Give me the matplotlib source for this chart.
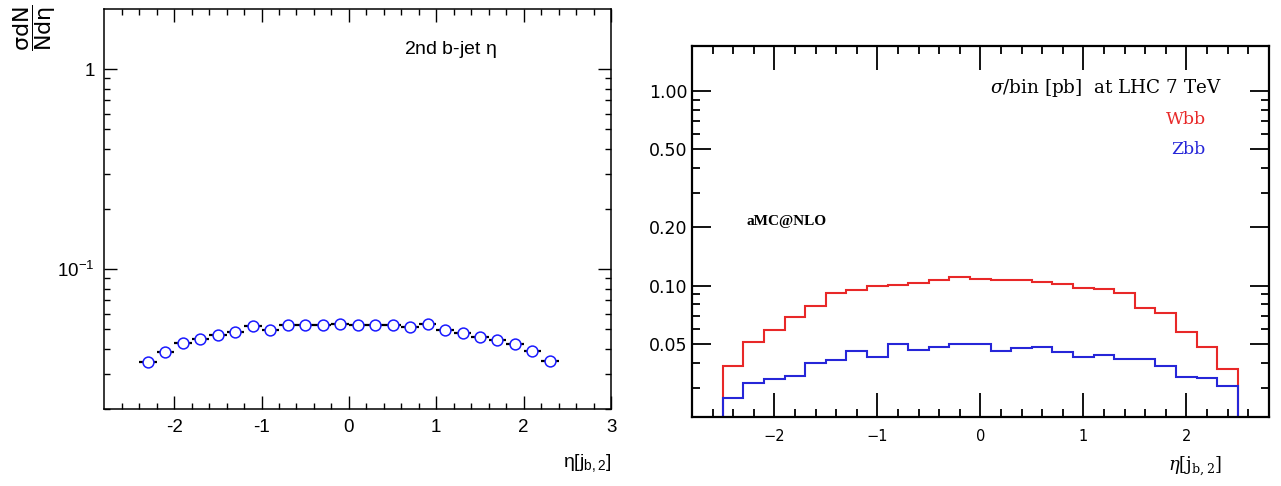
import matplotlib.pyplot as plt
from matplotlib.ticker import NullFormatter

plt.rcParams['mathtext.fontset'] = 'custom'
plt.rcParams['mathtext.rm'] = 'Liberation Sans'
plt.rcParams['mathtext.it'] = 'Liberation Sans:italic'
plt.rcParams['mathtext.bf'] = 'Liberation Sans:bold'

# left panel: normalised 2nd b-jet eta shape (bin centres, bin width 0.2)
eta_centres = [-2.3, -2.1, -1.9, -1.7, -1.5, -1.3, -1.1, -0.9, -0.7, -0.5, -0.3, -0.1,
               0.1, 0.3, 0.5, 0.7, 0.9, 1.1, 1.3, 1.5, 1.7, 1.9, 2.1, 2.3]
eta_halfwidth = 0.1
shape_vals = [0.0343, 0.0384, 0.0426, 0.0447, 0.0467, 0.0486, 0.0518, 0.0499,
              0.0524, 0.0525, 0.0524, 0.0530, 0.0524, 0.0524, 0.0524, 0.0514,
              0.0534, 0.0499, 0.0482, 0.0459, 0.0445, 0.0424, 0.0388, 0.0347]
left_xticks = [-2, -1, 0, 1, 2, 3]
left_xticklabels = ['-2', '-1', '0', '1', '2', '3']
left_yticks = [0.1, 1]
left_yticklabels = [r'$\mathregular{10^{-1}}$', '1']

# right panel: aMC@NLO sigma/bin histograms
bin_edges = [-2.5, -2.3, -2.1, -1.9, -1.7, -1.5, -1.3, -1.1, -0.9, -0.7, -0.5, -0.3, -0.1,
             0.1, 0.3, 0.5, 0.7, 0.9, 1.1, 1.3, 1.5, 1.7, 1.9, 2.1, 2.3, 2.5]
wbb = [0.0388, 0.0516, 0.0591, 0.0686, 0.0789, 0.0918, 0.0951, 0.0992, 0.1012,
       0.1031, 0.1073, 0.1111, 0.1085, 0.1069, 0.1069, 0.1048, 0.1016, 0.0969,
       0.0958, 0.0914, 0.0770, 0.0727, 0.0580, 0.0483, 0.0373]
zbb = [0.0266, 0.0317, 0.0330, 0.0345, 0.0403, 0.0413, 0.0459, 0.0431, 0.0500,
       0.0468, 0.0483, 0.0502, 0.0500, 0.0464, 0.0481, 0.0486, 0.0455, 0.0431,
       0.0441, 0.0420, 0.0420, 0.0388, 0.0341, 0.0335, 0.0307]
right_xticks = [-2, -1, 0, 1, 2]
right_yticks = [0.05, 0.1, 0.2, 0.5, 1.0]
right_yticklabels = ['0.05', '0.10', '0.20', '0.50', '1.00']

fig = plt.figure(figsize=(12.81, 4.86), dpi=100)

# ---------------- left panel ----------------
ax1 = fig.add_axes([0.0814, 0.1584, 0.3956, 0.8231])
ax1.errorbar(eta_centres, shape_vals, xerr=eta_halfwidth, fmt='o', ms=7.8,
             mfc='white', mec='#1a1aff', mew=1.1, ecolor='black',
             elinewidth=1.6, capsize=0)
ax1.set_yscale('log')
ax1.set_xlim(-2.8, 3)
ax1.set_ylim(0.02, 2)
ax1.set_xticks(left_xticks, left_xticklabels)
ax1.set_xticks([-2.6 + 0.2 * i for i in range(29)], minor=True)
ax1.set_yticks(left_yticks, left_yticklabels)
ax1.set_yticks([m * 10.0 ** e for e in (-2, -1) for m in range(2, 10)], minor=True)
ax1.yaxis.set_minor_formatter(NullFormatter())
ax1.tick_params(which='both', direction='in', top=True, right=True, width=1)
ax1.tick_params(which='major', length=9.5, labelsize=13.5, pad=7)
ax1.tick_params(which='minor', length=4.5)
for lab in ax1.get_xticklabels() + ax1.get_yticklabels():
    lab.set_family('Liberation Sans')
for s in ax1.spines.values():
    s.set_linewidth(1.1)

ax1.text(0.591, 0.8975, r'2nd b-jet $\mathregular{\eta}$', transform=ax1.transAxes,
         ha='left', va='center', fontsize=14, family='Liberation Sans')
ax1.text(1.0, -0.135, r'$\mathregular{\eta[j_{b,2}]}$', transform=ax1.transAxes,
         ha='right', va='center', fontsize=14, family='Liberation Sans')
fig.text(0.009, 0.992, r'$\mathregular{\dfrac{\sigma dN}{N d\eta}}$', rotation=90,
         ha='left', va='top', fontsize=16)

# ---------------- right panel ----------------
ax2 = fig.add_axes([0.5402, 0.1430, 0.4502, 0.7630])
ax2.stairs(wbb, bin_edges, baseline=0.01, color='#e82828', lw=1.5)
ax2.stairs(zbb, bin_edges, baseline=0.01, color='#2626d8', lw=1.5)
ax2.set_yscale('log')
ax2.set_xlim(-2.8, 2.8)
ax2.set_ylim(0.0213, 1.7)
ax2.set_xticks(right_xticks)
ax2.set_xticks([-2.6 + 0.2 * i for i in range(27)], minor=True)
ax2.set_yticks(right_yticks, right_yticklabels)
ax2.set_yticks([0.03, 0.04, 0.06, 0.07, 0.08, 0.09, 0.3, 0.4, 0.6, 0.7, 0.8, 0.9], minor=True)
ax2.yaxis.set_minor_formatter(NullFormatter())
ax2.tick_params(which='both', direction='in', top=True, right=True, width=1.3)
ax2.tick_params(axis='y', which='major', length=13.5, labelsize=12.5, pad=3)
ax2.tick_params(axis='x', which='major', length=17, labelsize=10.5, pad=9)
ax2.tick_params(which='minor', length=5.5)
for s in ax2.spines.values():
    s.set_linewidth(1.6)

ax2.text(0.919, 0.886, r'$\sigma$/bin [pb]  at LHC 7 TeV', transform=ax2.transAxes,
         ha='right', va='center', fontsize=13.2, family='DejaVu Serif',
         math_fontfamily='dejavuserif')
ax2.text(0.891, 0.802, 'Wbb', transform=ax2.transAxes, ha='right', va='center',
         fontsize=12.5, family='DejaVu Serif', color='#e82828')
ax2.text(0.890, 0.721, 'Zbb', transform=ax2.transAxes, ha='right', va='center',
         fontsize=12.5, family='DejaVu Serif', color='#2626d8')
ax2.text(0.095, 0.527, 'aMC@NLO', transform=ax2.transAxes, ha='left', va='center',
         fontsize=11, family='Liberation Serif', weight='bold')
ax2.text(0.919, -0.134, r'$\eta[\mathrm{j_{b,2}}]$', transform=ax2.transAxes,
         ha='right', va='center', fontsize=13, math_fontfamily='dejavuserif')

fig.savefig('out.png', dpi=100)
